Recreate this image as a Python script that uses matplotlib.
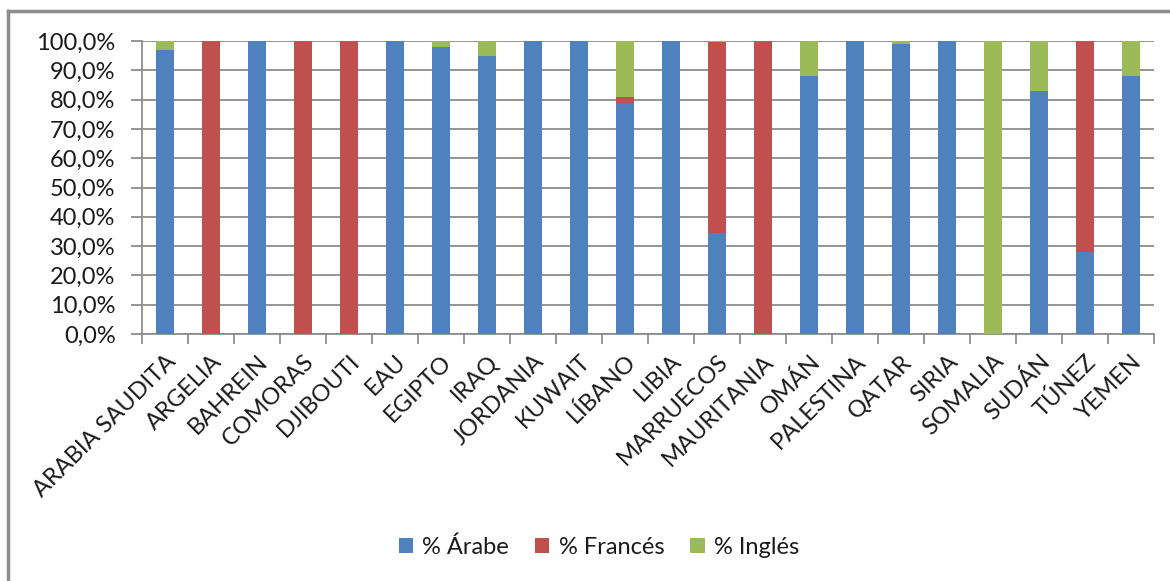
import numpy as np
import matplotlib
matplotlib.use('Agg')
from matplotlib import pyplot as pl, lines
from matplotlib.ticker import FuncFormatter, FixedLocator

matplotlib.rcParams.update({'font.size': 17, 'font.family': ['Lato', 'DejaVu Sans']})

paises = ['ARABIA SAUDITA', 'ARGELIA', 'BAHREIN', 'COMORAS', 'DJIBOUTI', 'EAU',
          'EGIPTO', 'IRAQ', 'JORDANIA', 'KUWAIT', 'LÍBANO', 'LIBIA', 'MARRUECOS',
          'MAURITANIA', 'OMÁN', 'PALESTINA', 'QATAR', 'SIRIA', 'SOMALIA', 'SUDÁN',
          'TÚNEZ', 'YEMEN']
arabe = [97, 0, 100, 0, 0, 100, 98, 95, 100, 100, 79, 100, 34.5, 0, 88, 100, 99,
         100, 0, 83, 28, 88]
frances = [0, 100, 0, 100, 100, 0, 0, 0, 0, 0, 2, 0, 65, 100, 0, 0, 0, 0, 0, 0,
           72, 0]
ingles = [3, 0, 0, 0, 0, 0, 2, 5, 0, 0, 19, 0, 0.5, 0, 12, 0, 1, 0, 100, 17, 0, 12]
series = ['% Árabe', '% Francés', '% Inglés']

colArabe = '#4F81BD'
colFrances = '#C0504D'
colIngles = '#9BBB59'
gridCol = '#8C8C8C'
txtCol = '#1a1a1a'

W, H = 1170, 581
fig = pl.figure(figsize=(W / 100., H / 100.), dpi=100)
ax = fig.add_axes([142. / W, 1 - 334. / H, (1154. - 142.) / W, (334. - 41.) / H])

xs = np.arange(len(paises))
a = np.array(arabe)
f = np.array(frances)
i = np.array(ingles)
bw = 0.39
ax.bar(xs, a, bw, color=colArabe, label=series[0], zorder=3)
ax.bar(xs, f, bw, bottom=a, color=colFrances, label=series[1], zorder=3)
ax.bar(xs, i, bw, bottom=a + f, color=colIngles, label=series[2], zorder=3)

ax.set_xlim(-0.5, len(paises) - 0.5)
ax.set_ylim(0, 100)
ax.set_yticks(np.arange(0, 101, 10))
ax.yaxis.set_major_formatter(FuncFormatter(lambda v, p: ('%.1f%%' % v).replace('.', ',')))
ax.set_xticks(xs)
ax.set_xticklabels(paises, rotation=45, ha='right', va='top', rotation_mode='anchor')
ax.xaxis.set_minor_locator(FixedLocator(np.arange(-0.5, len(paises), 1.0)))
ax.tick_params(axis='x', which='major', length=0, pad=12)
ax.tick_params(axis='x', which='minor', length=7, width=1.3, color=gridCol, direction='out')
ax.tick_params(axis='y', length=8, width=1.3, color=gridCol, pad=11)
ax.tick_params(labelcolor=txtCol)

ax.grid(axis='y', color=gridCol, linewidth=1.3, zorder=0)
for s in ['top', 'right']:
  ax.spines[s].set_visible(False)
for s in ['left', 'bottom']:
  ax.spines[s].set_color(gridCol)
  ax.spines[s].set_linewidth(1.3)

leg = fig.legend(loc='center', bbox_to_anchor=(0.512, 1 - 547. / H), ncol=3,
                 frameon=False, handlelength=0.6, handleheight=0.6,
                 handletextpad=0.4, columnspacing=1.1, fontsize=17)
for t in leg.get_texts():
  t.set_color(txtCol)

# chart area border (left and top edges visible)
fig.add_artist(lines.Line2D([8. / W, 8. / W], [0, 1 - 11. / H], color='#8C8C8C', lw=2.5,
                            transform=fig.transFigure))
fig.add_artist(lines.Line2D([8. / W, 1], [1 - 11. / H, 1 - 11. / H], color='#8C8C8C', lw=2.5,
                            transform=fig.transFigure))

fig.savefig('out.png', dpi=100)
